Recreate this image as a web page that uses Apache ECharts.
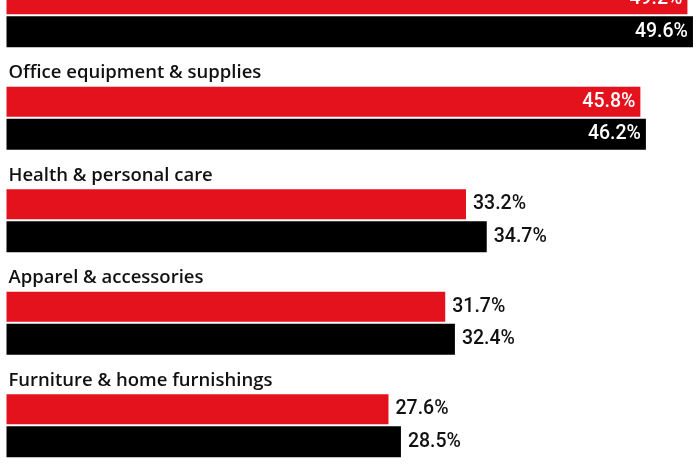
<!DOCTYPE html>
<html>
<head>
<meta charset="utf-8">
<script src="https://cdn.jsdelivr.net/npm/echarts@6/dist/echarts.min.js"></script>
<style>html,body{margin:0;padding:0;background:#fff}#c{width:700px;height:470px}</style>
</head>
<body>
<div id="c"></div>
<script>
var categories = ["Computer & consumer electronics", "Office equipment & supplies", "Health & personal care", "Apparel & accessories", "Furniture & home furnishings"];
var redValues = [49.2, 45.8, 33.2, 31.7, 27.6];
var blackValues = [49.6, 46.2, 34.7, 32.4, 28.5];

function items(vals) {
  return vals.map(function (v) {
    var inside = v > 40;
    return {
      value: v,
      label: inside
        ? { position: 'insideRight', color: '#ffffff', distance: 5 }
        : { position: 'right', color: '#111111', distance: 7 }
    };
  });
}

var chart = echarts.init(document.getElementById('c'), null, { renderer: 'canvas' });
chart.setOption({
  animation: false,
  backgroundColor: '#ffffff',
  grid: { left: 6.5, top: -35.5, width: 692, height: 512.5, containLabel: false, outerBoundsMode: 'none' },
  xAxis: { type: 'value', min: 0, max: 50, show: false },
  yAxis: {
    type: 'category', data: categories, inverse: true,
    axisLine: { show: false }, axisTick: { show: false }, splitLine: { show: false },
    axisLabel: {
      inside: true, margin: 2, align: 'left', verticalAlign: 'bottom',
      padding: [0, 0, 35, 0],
      fontFamily: 'Open Sans', fontWeight: 600, fontSize: 18.5, color: '#111111', lineHeight: 21
    }
  },
  series: [
    {
      type: 'bar', data: items(redValues), barWidth: 30, barGap: '6.7%',
      itemStyle: { color: '#e3121c' },
      label: { show: true, formatter: '{c}%', fontFamily: 'Roboto', fontSize: 19.5, fontWeight: 500 }
    },
    {
      type: 'bar', data: items(blackValues), barWidth: 31,
      itemStyle: { color: '#000000' },
      label: { show: true, formatter: '{c}%', fontFamily: 'Roboto', fontSize: 19.5, fontWeight: 500 }
    }
  ]
});
</script>
</body>
</html>
